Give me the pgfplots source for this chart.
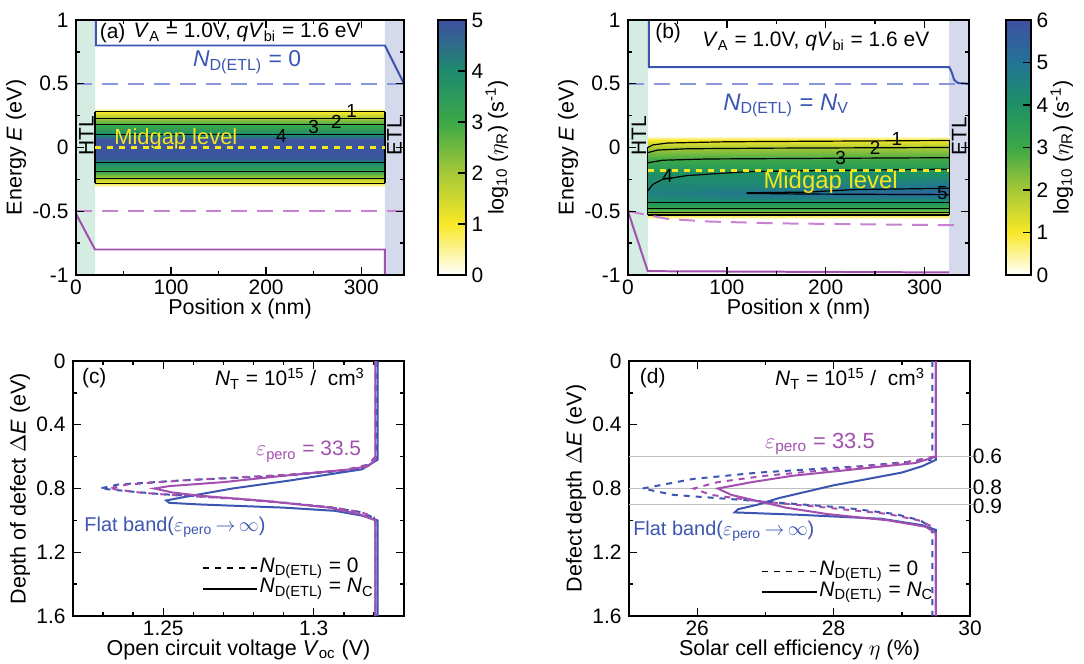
\documentclass[border=0pt]{standalone}
\usepackage{pgfplots}
\pgfplotsset{compat=1.18}
\usepackage{fontspec}
\setmainfont{Liberation Sans}
\definecolor{cb}{RGB}{59,85,176}
\definecolor{vp}{RGB}{162,79,176}
\definecolor{cbl}{RGB}{140,150,220}
\definecolor{vpl}{RGB}{200,130,210}
\definecolor{htl}{RGB}{212,236,226}
\definecolor{etl}{RGB}{212,217,236}
\definecolor{mid}{RGB}{245,230,30}
\newcommand{\ND}{\textit{N}\textsubscript{D(ETL)}}
\pgfplotsset{
  every axis/.append style={font=\fontsize{10.5}{12}\selectfont, scale only axis,
    /pgf/number format/assume math mode=true, tick align=inside, xtick pos=both, ytick pos=both,
    major tick length=4bp, minor tick length=2bp, line width=0.9pt,
    every tick/.style={line width=0.7pt},
    xticklabel style={yshift=1.5bp},
    label style={font=\fontsize{10.8}{12}\selectfont},
    xlabel shift=-5pt, ylabel shift=-4pt},
  band/.style={xmin=0,xmax=345,ymin=-1,ymax=1, xtick={0,100,200,300}, minor xtick={50,150,250},
    ytick={-1,-0.5,0,0.5,1}, minor ytick={-0.75,-0.25,0.25,0.75},
    yticklabels={-1,-0.5,0,0.5,1},
    xlabel={Position x (nm)}, ylabel={Energy \textit{E} (eV)}, clip=true, axis on top},
  cbar/.style={colorbar, colorbar style={at={(parent axis.north east)}, anchor=north west,
    xshift=#1, width=14bp, yticklabel pos=right, ytick pos=right, tick align=inside,
    major tick length=4bp, yticklabel style={xshift=-1bp},
    ylabel={log\textsubscript{10} ($\eta_\mathrm{R}$) (s\textsuperscript{-1})},
    ylabel shift=-6pt, /pgf/number format/assume math mode=true}},
}
\pgfplotsset{
 colormap={cma}{rgb255(0cm)=(255,255,255); rgb255(1cm)=(248,232,40); rgb255(2cm)=(165,200,55); rgb255(3cm)=(60,168,72); rgb255(4cm)=(30,138,110); rgb255(5cm)=(62,80,162)},
 colormap={cmb}{rgb255(0cm)=(255,255,255); rgb255(1cm)=(248,232,40); rgb255(2cm)=(165,200,55); rgb255(3cm)=(60,168,72); rgb255(4cm)=(30,145,100); rgb255(5cm)=(35,115,150); rgb255(6cm)=(62,80,162)},
}
\pgfplotstableread{
x y z
20 0.31 0
325 0.31 0
20 0.28 1
325 0.28 1
20 0.23 2
325 0.23 2
20 0.18 3
325 0.18 3
20 0.10 4
325 0.10 4
20 0.07 4.9
325 0.07 4.9
20 -0.08 4.9
325 -0.08 4.9
20 -0.12 4
325 -0.12 4
20 -0.19 3
325 -0.19 3
20 -0.24 2
325 -0.24 2
20 -0.28 1
325 -0.28 1
20 -0.31 0
325 -0.31 0
}\mapa
\pgfplotstableread{
x y z
20 0.09 0
325 0.09 0
20 0.06 1
325 0.06 1
20 0.0 2
325 0.0 2
20 -0.1 3
325 -0.1 3
20 -0.2 4
325 -0.2 4
20 -0.36 4.6
325 -0.36 5.4
20 -0.43 4
325 -0.43 4
20 -0.48 3
325 -0.48 3
20 -0.51 2
325 -0.51 2
20 -0.53 1
325 -0.53 1
20 -0.56 0
325 -0.56 0
}\mapb
\begin{document}
\begin{tikzpicture}
\useasboundingbox (0,0) rectangle (542bp,332bp);
% (a)
\begin{axis}[band, at={(38bp,194.5bp)}, width=164bp, height=127.5bp, colormap name=cma,
  point meta min=0, point meta max=5, cbar=8.5bp, colorbar style={ytick={0,...,5}}]
\addplot[fill=htl, draw=none] coordinates {(0,-1)(20,-1)(20,1)(0,1)} \closedcycle;
\addplot[fill=etl, draw=none] coordinates {(325,-1)(345,-1)(345,1)(325,1)} \closedcycle;
\addplot[surf, shader=interp, mesh/cols=2, point meta=explicit] table[x=x,y=y,meta=z] {\mapa};
\foreach \e in {0.28,0.23,0.18,0.10,-0.12,-0.19,-0.24,-0.28} {
 \edef\tmp{\noexpand\addplot[black, line width=0.6pt] coordinates {(20,\e)(325,\e)};}\tmp }
\addplot[black, line width=0.6pt] coordinates {(20,-0.28)(20,0.28)};
\addplot[black, line width=0.6pt] coordinates {(325,-0.28)(325,0.28)};
\addplot[mid, dashed, line width=1.2pt] coordinates {(20,0)(325,0)};
\addplot[cbl, dashed, dash pattern=on 8pt off 5pt, line width=1pt] coordinates {(0,0.5)(345,0.5)};
\addplot[vpl, dashed, dash pattern=on 8pt off 5pt, line width=1pt] coordinates {(0,-0.5)(345,-0.5)};
\addplot[cb, line width=1pt] coordinates {(21,1.05)(21,0.8)(325,0.8)(345,0.5)};
\addplot[vp, line width=1pt] coordinates {(0,-0.52)(20,-0.8)(325,-0.8)(325,-1.05)};
\node[anchor=west, inner sep=1pt] at (axis cs:22,0.9) {(a)};
\node at (axis cs:180,0.9) {\textit{V}\textsubscript{A} = 1.0V, \textit{qV}\textsubscript{bi} = 1.6 eV};
\node[text=cb, font=\fontsize{11.5}{13}\selectfont] at (axis cs:180,0.67) {\ND\ = 0};
\node[text=mid, font=\fontsize{11}{13}\selectfont] at (axis cs:105,0.07) {Midgap level};
\node[rotate=90] at (axis cs:11,0.09) {HTL};
\node[rotate=90] at (axis cs:335,0.09) {ETL};
\node[font=\fontsize{9.5}{10}\selectfont] at (axis cs:290,0.29) {1};
\node[font=\fontsize{9.5}{10}\selectfont] at (axis cs:274,0.2) {2};
\node[font=\fontsize{9.5}{10}\selectfont] at (axis cs:250,0.16) {3};
\node[font=\fontsize{9.5}{10}\selectfont] at (axis cs:216,0.09) {4};
\end{axis}
% (b)
\begin{axis}[band, at={(314bp,194.5bp)}, width=170.5bp, height=127.5bp, colormap name=cmb,
  point meta min=0, point meta max=6, cbar=10bp, colorbar style={ytick={0,...,6}, width=12.5bp}]
\addplot[fill=htl, draw=none] coordinates {(0,-1)(20,-1)(20,1)(0,1)} \closedcycle;
\addplot[fill=etl, draw=none] coordinates {(325,-1)(345,-1)(345,1)(325,1)} \closedcycle;
\addplot[surf, shader=interp, mesh/cols=2, point meta=explicit] table[x=x,y=y,meta=z] {\mapb};
\addplot[black, line width=0.6pt] coordinates {(20,0.0)(25,0.02)(40,0.035)(100,0.045)(325,0.055)};
\addplot[black, line width=0.6pt] coordinates {(20,-0.04)(30,-0.02)(60,-0.01)(150,-0.005)(325,0.0)};
\addplot[black, line width=0.6pt] coordinates {(20,-0.12)(35,-0.1)(80,-0.09)(200,-0.085)(325,-0.08)};
\addplot[black, line width=0.6pt] coordinates {(20,-0.34)(25,-0.29)(35,-0.25)(60,-0.22)(120,-0.19)(200,-0.18)(325,-0.17)};
\addplot[black, line width=0.6pt] coordinates {(120,-0.355)(180,-0.35)(230,-0.33)(325,-0.32)};
\addplot[black, line width=0.6pt] coordinates {(120,-0.36)(180,-0.365)(325,-0.37)};
\foreach \e in {-0.43,-0.48,-0.51,-0.53} {
 \edef\tmp{\noexpand\addplot[black, line width=0.6pt] coordinates {(20,\e)(325,\e)};}\tmp }
\addplot[black, line width=0.6pt] coordinates {(20,-0.53)(20,0.0)};
\addplot[black, line width=0.6pt] coordinates {(325,-0.53)(325,0.055)};
\addplot[mid, dashed, line width=1.2pt] coordinates {(20,-0.18)(325,-0.18)};
\addplot[cbl, dashed, dash pattern=on 8pt off 5pt, line width=1pt] coordinates {(0,0.5)(345,0.5)};
\addplot[vpl, dashed, dash pattern=on 8pt off 5pt, line width=1pt] coordinates {(0,-0.5)(20,-0.53)(40,-0.56)(80,-0.58)(150,-0.595)(335,-0.61)};
\addplot[cb, line width=1pt] coordinates {(21,1.05)(21,0.63)(325,0.63)(327,0.6)(330,0.53)(334,0.505)(345,0.5)};
\addplot[vp, line width=1pt] coordinates {(0,-0.5)(20,-0.97)(325,-0.98)};
\node[anchor=west] at (axis cs:20,0.9) {(b)};
\node at (axis cs:190,0.83) {\textit{V}\textsubscript{A} = 1.0V, \textit{qV}\textsubscript{bi} = 1.6 eV};
\node[text=cb, font=\fontsize{12}{13}\selectfont] at (axis cs:160,0.33) {\ND\ = \textit{N}\textsubscript{V}};
\node[text=mid, font=\fontsize{12}{13}\selectfont] at (axis cs:205,-0.27) {Midgap level};
\node[rotate=90] at (axis cs:11,0.09) {HTL};
\node[rotate=90] at (axis cs:335,0.09) {ETL};
\node[font=\fontsize{9.5}{10}\selectfont] at (axis cs:272,0.07) {1};
\node[font=\fontsize{9.5}{10}\selectfont] at (axis cs:250,0.0) {2};
\node[font=\fontsize{9.5}{10}\selectfont] at (axis cs:215,-0.08) {3};
\node[font=\fontsize{9.5}{10}\selectfont] at (axis cs:40,-0.22) {4};
\node[font=\fontsize{9.5}{10}\selectfont] at (axis cs:318,-0.36) {5};
\end{axis}
% (c)
\begin{axis}[at={(36.5bp,24bp)}, width=165.5bp, height=127.5bp, xmin=1.22, xmax=1.33, ymin=0, ymax=1.6,
  y dir=reverse, xtick={1.25,1.3}, minor xtick={1.23,1.24,1.26,1.27,1.28,1.29,1.31,1.32},
  xticklabels={1.25,1.3}, ytick={0,0.4,0.8,1.2,1.6}, minor ytick={0.2,0.6,1.0,1.4},
  yticklabels={0,0.4,0.8,1.2,1.6},
  xlabel={Open circuit voltage \textit{V}\textsubscript{oc} (V)}, ylabel={Depth of defect $\Delta$\textit{E} (eV)}, clip=false]
\addplot[cb, dashed, line width=1pt] coordinates {(1.3212,0)(1.3210,0.6)(1.319,0.65)(1.312,0.685)(1.29,0.72)(1.257,0.748)(1.235,0.775)(1.229,0.80)(1.240,0.82)(1.249,0.835)(1.272,0.86)(1.291,0.89)(1.304,0.915)(1.315,0.946)(1.319,0.975)(1.3205,1.01)(1.3205,1.6)};
\addplot[vp, dashed, line width=1pt] coordinates {(1.3205,0)(1.3205,0.6)(1.318,0.65)(1.310,0.685)(1.29,0.715)(1.26,0.745)(1.238,0.775)(1.232,0.80)(1.242,0.825)(1.252,0.84)(1.274,0.865)(1.293,0.895)(1.307,0.92)(1.316,0.95)(1.320,0.98)(1.3205,1.01)(1.3205,1.6)};
\addplot[cb, line width=1pt] coordinates {(1.3212,0)(1.3212,0.62)(1.316,0.68)(1.309,0.70)(1.292,0.75)(1.273,0.80)(1.258,0.85)(1.251,0.875)(1.252,0.89)(1.262,0.9)(1.29,0.92)(1.307,0.94)(1.316,0.97)(1.3212,1.0)(1.3212,1.6)};
\addplot[vp, line width=1pt] coordinates {(1.3205,0)(1.3205,0.62)(1.318,0.66)(1.312,0.68)(1.29,0.72)(1.27,0.76)(1.252,0.785)(1.247,0.80)(1.253,0.825)(1.262,0.845)(1.285,0.88)(1.305,0.92)(1.315,0.96)(1.3205,1.0)(1.3205,1.6)};
\node[anchor=west] at (axis cs:1.2205,0.11) {(c)};
\node[anchor=east] at (axis cs:1.3195,0.11) {\textit{N}\textsubscript{T} = 10\textsuperscript{15} /\ \ cm\textsuperscript{3}};
\node[text=vp, font=\fontsize{10.5}{12}\selectfont] at (axis cs:1.2983,0.57) {$\varepsilon$\textsubscript{pero} = 33.5};
\node[text=cb, font=\fontsize{10}{12}\selectfont, inner sep=0pt, anchor=west] at (axis cs:1.2235,1.04) {Flat band($\varepsilon$\textsubscript{pero}\,$\rightarrow$\,$\infty$)};
\draw[dashed, line width=0.7pt] (axis cs:1.2633,1.3)--(axis cs:1.2811,1.3);
\node[anchor=west, inner sep=1pt] at (axis cs:1.2811,1.3) {\ND\ = 0};
\draw[line width=0.7pt] (axis cs:1.2633,1.43)--(axis cs:1.2811,1.43);
\node[anchor=west, inner sep=1pt] at (axis cs:1.2811,1.43) {\ND\ = \textit{N}\textsubscript{C}};
\end{axis}
% (d)
\begin{axis}[at={(314.5bp,24bp)}, width=170.5bp, height=127.5bp, xmin=25, xmax=30, ymin=0, ymax=1.6,
  y dir=reverse, xtick={26,28,30}, minor xtick={25,27,29},
  ytick={0,0.4,0.8,1.2,1.6}, minor ytick={0.2,0.6,1.0,1.4},
  yticklabels={0,0.4,0.8,1.2,1.6},
  xlabel={Solar cell efficiency $\eta$ (\%)}, ylabel={Defect depth $\Delta$\textit{E} (eV)}, clip=false]
\foreach \e in {0.6,0.8,0.9} {
 \edef\tmp{\noexpand\addplot[gray!50, line width=0.5pt] coordinates {(25,\e)(30.1,\e)};}\tmp }
\addplot[cb, dashed, line width=1pt] coordinates {(29.45,0)(29.45,0.58)(29.42,0.62)(28.4,0.66)(26.9,0.70)(25.94,0.74)(25.2,0.80)(25.65,0.84)(26.92,0.88)(28.15,0.92)(28.9,0.96)(29.27,1.0)(29.42,1.04)(29.45,1.08)(29.45,1.6)};
\addplot[vp, dashed, line width=1pt] coordinates {(29.5,0)(29.5,0.58)(29.47,0.6)(29.0,0.64)(28.0,0.68)(27.0,0.72)(26.3,0.76)(25.95,0.8)(26.2,0.84)(26.9,0.88)(27.9,0.92)(28.8,0.96)(29.25,1.0)(29.45,1.04)(29.5,1.08)(29.5,1.6)};
\addplot[cb, line width=1pt] coordinates {(29.5,0)(29.5,0.62)(29.3,0.66)(29.0,0.70)(28.5,0.74)(28.0,0.78)(27.6,0.82)(27.2,0.86)(26.9,0.9)(26.6,0.93)(26.55,0.95)(27.5,0.965)(28.7,0.99)(29.3,1.03)(29.5,1.06)(29.5,1.6)};
\addplot[vp, line width=1pt] coordinates {(29.5,0)(29.5,0.6)(29.2,0.64)(28.3,0.68)(27.4,0.72)(26.8,0.76)(26.3,0.8)(26.5,0.84)(26.9,0.88)(27.3,0.92)(27.9,0.96)(28.8,1.0)(29.35,1.04)(29.5,1.08)(29.5,1.6)};
\node[anchor=west, inner sep=1pt] at (axis cs:30.0,0.6) {0.6};
\node[anchor=west, inner sep=1pt] at (axis cs:30.0,0.79) {0.8};
\node[anchor=west, inner sep=1pt] at (axis cs:30.0,0.91) {0.9};
\node[anchor=west] at (axis cs:25.05,0.11) {(d)};
\node[anchor=east] at (axis cs:29.45,0.11) {\textit{N}\textsubscript{T} = 10\textsuperscript{15} /\ \ cm\textsuperscript{3}};
\node[text=vp, font=\fontsize{11}{12}\selectfont] at (axis cs:27.8,0.52) {$\varepsilon$\textsubscript{pero} = 33.5};
\node[text=cb, font=\fontsize{10}{12}\selectfont, inner sep=0pt, anchor=west] at (axis cs:25.05,1.07) {Flat band($\varepsilon$\textsubscript{pero}\,$\rightarrow$\,$\infty$)};
\draw[dashed, line width=0.7pt] (axis cs:26.95,1.32)--(axis cs:27.75,1.32);
\node[anchor=west, inner sep=1pt] at (axis cs:27.75,1.32) {\ND\ = 0};
\draw[line width=0.7pt] (axis cs:26.95,1.45)--(axis cs:27.75,1.45);
\node[anchor=west, inner sep=1pt] at (axis cs:27.75,1.45) {\ND\ = \textit{N}\textsubscript{C}};
\end{axis}
\end{tikzpicture}
\end{document}
